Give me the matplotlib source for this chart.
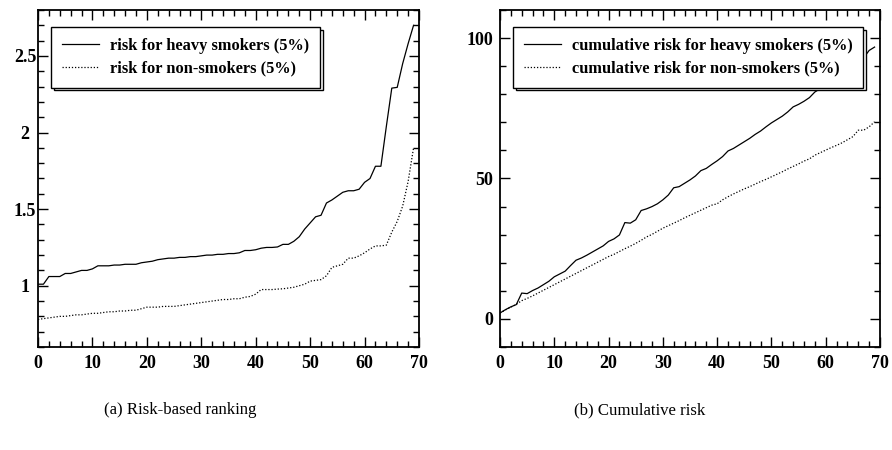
import numpy as np
import matplotlib
matplotlib.use("Agg")
from matplotlib import pyplot as plt
from matplotlib.ticker import MultipleLocator

plt.rcParams['font.family'] = ['Liberation Serif', 'DejaVu Serif']

rank = np.arange(70)

# (a) risk per ranked item
risk_heavy = [1.01, 1.01, 1.06, 1.06, 1.06, 1.08, 1.08, 1.09, 1.10, 1.10,
              1.11, 1.13, 1.13, 1.13, 1.135, 1.135, 1.14, 1.14, 1.14, 1.15,
              1.155, 1.16, 1.17, 1.175, 1.18, 1.18, 1.185, 1.185, 1.19, 1.19,
              1.195, 1.20, 1.20, 1.205, 1.205, 1.21, 1.21, 1.215, 1.23, 1.23,
              1.235, 1.245, 1.25, 1.25, 1.253, 1.27, 1.27, 1.29, 1.32, 1.37,
              1.41, 1.45, 1.46, 1.54, 1.56, 1.585, 1.61, 1.62, 1.62, 1.63,
              1.675, 1.70, 1.78, 1.78, 2.04, 2.29, 2.295, 2.45, 2.58, 2.70]
risk_non = [0.78, 0.785, 0.79, 0.795, 0.80, 0.80, 0.805, 0.81, 0.81, 0.815,
            0.82, 0.82, 0.825, 0.83, 0.83, 0.835, 0.835, 0.84, 0.84, 0.85,
            0.86, 0.86, 0.86, 0.865, 0.865, 0.865, 0.87, 0.875, 0.88, 0.885,
            0.89, 0.895, 0.90, 0.905, 0.91, 0.91, 0.915, 0.915, 0.925, 0.93,
            0.945, 0.975, 0.975, 0.975, 0.978, 0.98, 0.985, 0.99, 1.00, 1.01,
            1.03, 1.035, 1.04, 1.065, 1.12, 1.13, 1.14, 1.18, 1.18, 1.195,
            1.215, 1.24, 1.26, 1.26, 1.265, 1.35, 1.42, 1.52, 1.68, 1.90]

# (b) cumulative risk
cum_heavy = [2.1, 3.3, 4.3, 5.1, 9.2, 9.0, 10.1, 11.0, 12.2, 13.4,
             15.0, 16.0, 17.0, 19.0, 20.9, 21.7, 22.7, 23.8, 24.9, 26.0,
             27.6, 28.5, 29.9, 34.3, 34.1, 35.3, 38.6, 39.2, 40.0, 41.0,
             42.4, 44.1, 46.7, 47.1, 48.3, 49.5, 50.9, 52.8, 53.6, 55.0,
             56.3, 57.8, 59.8, 60.7, 61.9, 63.1, 64.3, 65.7, 66.9, 68.4,
             69.8, 71.0, 72.2, 73.7, 75.5, 76.4, 77.5, 78.8, 80.8, 82.0,
             83.2, 84.6, 86.2, 87.6, 89.0, 90.5, 92.0, 93.0, 95.6, 96.8]
cum_non = [2.1, 3.2, 4.2, 5.2, 6.5, 7.3, 8.2, 9.2, 10.2, 11.2,
           12.2, 13.2, 14.2, 15.2, 16.2, 17.2, 18.2, 19.2, 20.2, 21.2,
           22.2, 23.0, 24.0, 25.0, 25.9, 26.9, 28.0, 29.2, 30.1, 31.2,
           32.3, 33.2, 34.1, 35.0, 36.0, 36.9, 37.8, 38.7, 39.6, 40.5,
           41.0, 42.4, 43.5, 44.5, 45.4, 46.3, 47.1, 48.0, 48.9, 49.7,
           50.6, 51.5, 52.4, 53.4, 54.3, 55.2, 56.2, 57.0, 58.3, 59.2,
           60.1, 61.0, 61.8, 62.7, 63.8, 64.9, 67.2, 67.2, 68.4, 70.2]

fig = plt.figure(figsize=(8.92, 4.5), dpi=100)
ax1 = fig.add_axes([38 / 892, 1 - 347 / 450, 381 / 892, 337 / 450])
ax2 = fig.add_axes([500 / 892, 1 - 347 / 450, 380 / 892, 337 / 450])

ax1.plot(rank, risk_heavy, color='black', lw=0.9, label='risk for heavy smokers (5%)')
ax1.plot(rank, risk_non, color='black', lw=0.9, ls=(0, (1, 1.5)), label='risk for non-smokers (5%)')
ax1.set_xlim(0, 70)
ax1.set_ylim(0.6, 2.8)
ax1.xaxis.set_major_locator(MultipleLocator(10))
ax1.xaxis.set_minor_locator(MultipleLocator(2))
ax1.set_yticks([1, 1.5, 2, 2.5])
ax1.set_yticklabels(['1', '1.5', '2', '2.5'])
ax1.yaxis.set_minor_locator(MultipleLocator(0.1))

ax2.plot(rank, cum_heavy, color='black', lw=0.9, label='cumulative risk for heavy smokers (5%)')
ax2.plot(rank, cum_non, color='black', lw=0.9, ls=(0, (1, 1.5)), label='cumulative risk for non-smokers (5%)')
ax2.set_xlim(0, 70)
ax2.set_ylim(-10, 110)
ax2.xaxis.set_major_locator(MultipleLocator(10))
ax2.xaxis.set_minor_locator(MultipleLocator(2))
ax2.set_yticks([0, 50, 100])
ax2.yaxis.set_minor_locator(MultipleLocator(10))

for ax in (ax1, ax2):
    for s in ax.spines.values():
        s.set_linewidth(1.3)
    ax.tick_params(which='both', direction='in', top=True, right=True, width=1)
    ax.tick_params(which='major', length=7, labelsize=13, pad=6)
    ax.tick_params(which='minor', length=4)
    for lab in ax.get_xticklabels() + ax.get_yticklabels():
        lab.set_fontweight('bold')
    leg = ax.legend(loc='upper left', bbox_to_anchor=(0.034, 0.95),
                    frameon=True, fancybox=False, borderaxespad=0,
                    shadow={'facecolor': 'white', 'edgecolor': 'black', 'alpha': 1, 'linewidth': 1},
                    prop={'weight': 'bold', 'size': 11.8}, handlelength=2.3, handletextpad=0.65,
                    borderpad=0.65, labelspacing=0.45)
    leg.get_frame().set_edgecolor('black')
    leg.get_frame().set_linewidth(1)

# left panel's y labels sit centred, right panel's are right-aligned
ax1.tick_params(axis='y', pad=9.4)
for lab in ax1.get_yticklabels():
    lab.set_horizontalalignment('center')
ax2.tick_params(axis='y', pad=5)

fig.text(180 / 892, 1 - 410 / 450, '(a) Risk-based ranking', ha='center', va='center', fontsize=12.1)
fig.text(640 / 892, 1 - 410 / 450, '(b) Cumulative risk', ha='center', va='center', fontsize=12.1)

fig.savefig('out.png', dpi=100, facecolor='white')
